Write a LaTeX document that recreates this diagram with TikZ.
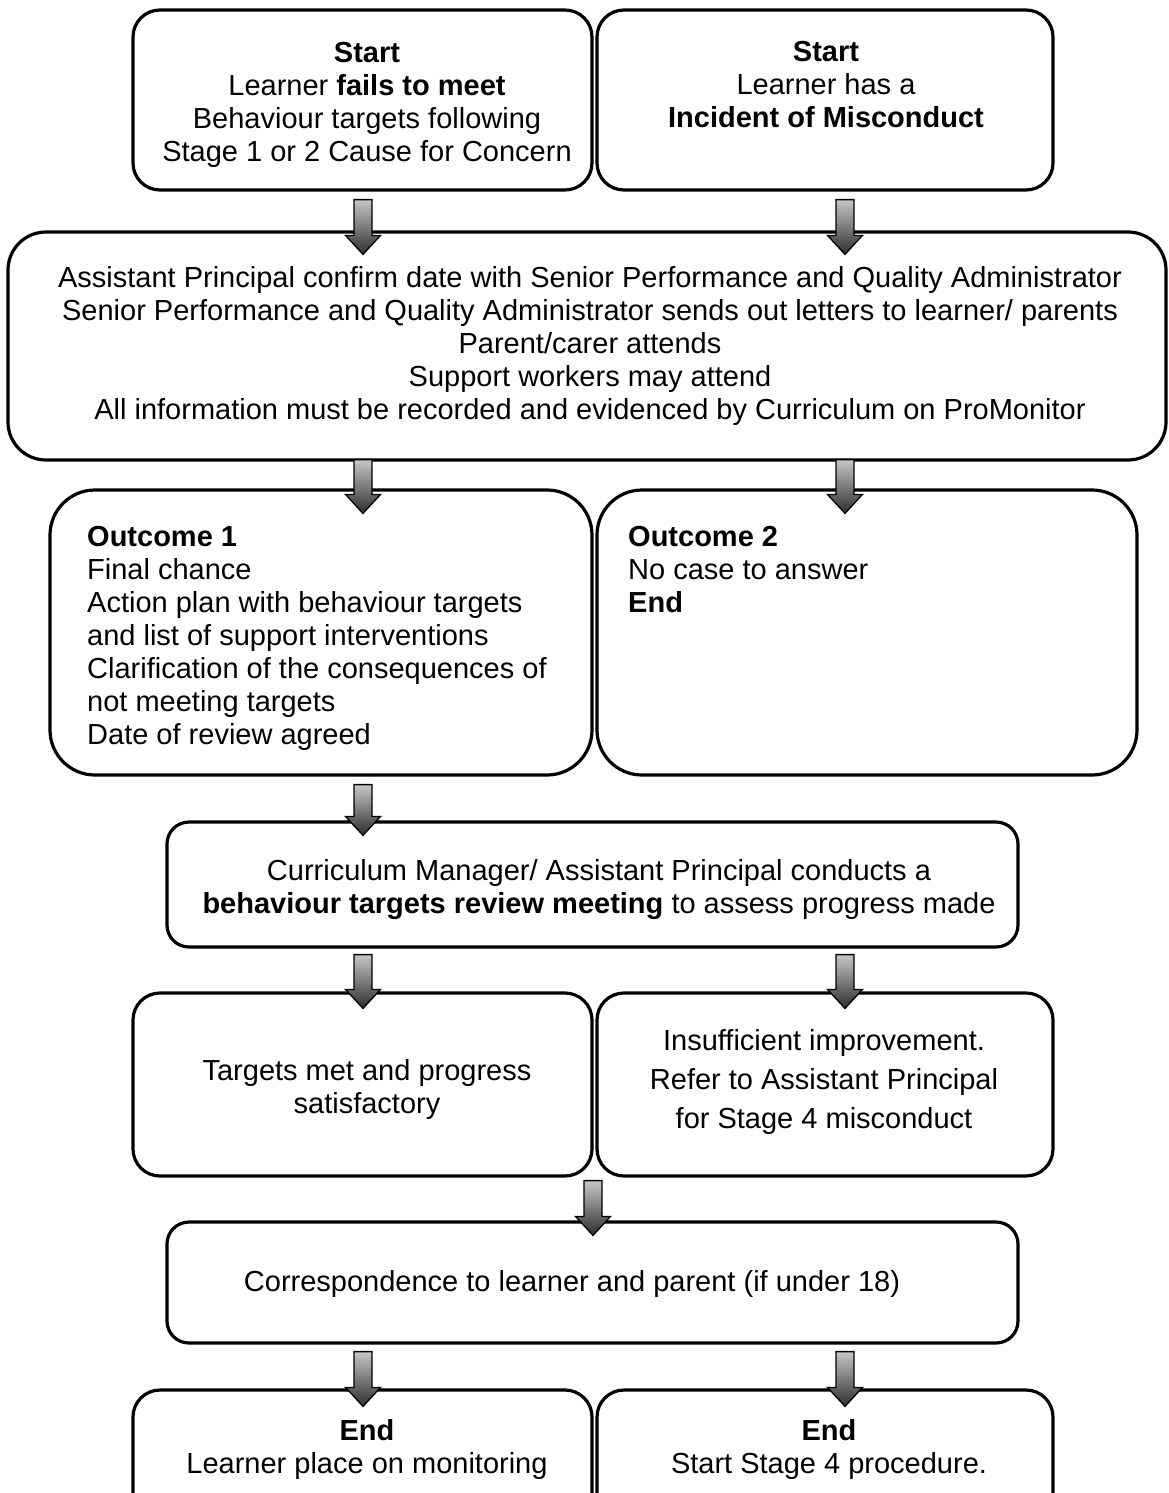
\documentclass[tikz,border=0pt]{standalone}
\usepackage{fontspec}
\setmainfont{Liberation Sans}
\usetikzlibrary{calc}
\tikzset{
  box/.style={draw=black, line width=3.2pt, rectangle, inner sep=0pt, fill=white},
  txt/.style={inner sep=0pt, align=center, font=\fontsize{29}{33}\selectfont},
  txtl/.style={inner sep=0pt, align=left, font=\fontsize{29}{33}\selectfont},
  arrsh/.style={top color=black!22, bottom color=black!82, draw=black, line width=1.3pt, line join=miter}
}
\newcommand\barrow[5]{%
  \shade[arrsh] let \p1=($(#1.south -| #3)+(0,#4)$), \p2=($(#2.north -| #3)+(0,#5)$) in
   (\x1-9pt,\y1) -- (\x1+9pt,\y1) -- (\x1+9pt,\y2+19pt) -- (\x1+17.5pt,\y2+19pt) --
   (\x1,\y2) -- (\x1-17.5pt,\y2+19pt) -- (\x1-9pt,\y2+19pt) -- cycle;}
\begin{document}
\begin{tikzpicture}[x=1pt,y=-1pt]
\useasboundingbox (0,0) rectangle (1168,1493);
\clip (0,0) rectangle (1168,1493);
\coordinate (xL) at (363,0);
\coordinate (xR) at (845,0);
\coordinate (xM) at (593,0);
% boxes
\node[box, rounded corners=27pt, minimum width=459pt, minimum height=180pt] (b1) at (362.5,100) {};
\node[box, rounded corners=27pt, minimum width=456pt, minimum height=180pt] (b2) at (825,100) {};
\node[box, rounded corners=38pt, minimum width=1158pt, minimum height=228pt] (b3) at (587,346) {};
\node[box, rounded corners=45pt, minimum width=542pt, minimum height=285pt] (b4) at (321,632.5) {};
\node[box, rounded corners=45pt, minimum width=540pt, minimum height=285pt] (b5) at (867,632.5) {};
\node[box, rounded corners=22pt, minimum width=851pt, minimum height=125pt] (b6) at (592.5,884.5) {};
\node[box, rounded corners=27pt, minimum width=459pt, minimum height=183pt] (b7) at (362.5,1084.5) {};
\node[box, rounded corners=27pt, minimum width=456pt, minimum height=183pt] (b8) at (825,1084.5) {};
\node[box, rounded corners=22pt, minimum width=851pt, minimum height=121pt] (b9) at (592.5,1282.5) {};
\node[box, rounded corners=27pt, minimum width=459pt, minimum height=140pt] (b10) at (362.5,1460) {};
\node[box, rounded corners=27pt, minimum width=456pt, minimum height=140pt] (b11) at (825,1460) {};
% texts (anchor=base is the baseline of the last line)
\node[txt, anchor=base] (t1) at (367,161) {\textbf{Start}\\Learner \textbf{fails to meet}\\Behaviour targets following\\Stage 1 or 2 Cause for Concern};
\node[txt, anchor=base] (t2) at (826,128) {\textbf{Start}\\Learner has a\\\textbf{Incident of Misconduct}};
\node[txt, anchor=base] (t3) at (590,419) {Assistant Principal confirm date with Senior Performance and Quality Administrator\\Senior Performance and Quality Administrator sends out letters to learner/ parents\\Parent/carer attends\\Support workers may attend\\All information must be recorded and evidenced by Curriculum on ProMonitor};
\node[txtl, anchor=base west] (t4) at (87,744) {\textbf{Outcome 1}\\Final chance\\Action plan with behaviour targets\\and list of support interventions\\Clarification of the consequences of\\not meeting targets\\Date of review agreed};
\node[txtl, anchor=base west] (t5) at (628,612) {\textbf{Outcome 2}\\No case to answer\\\textbf{End}};
\node[txt, anchor=base] (t6) at (599,913) {Curriculum Manager/ Assistant Principal conducts a\\\textbf{behaviour targets review meeting} to assess progress made};
\node[txt, anchor=base] (t7) at (367,1113) {Targets met and progress\\satisfactory};
\node[txt, anchor=base, font=\fontsize{29}{39}\selectfont] (t8) at (824,1128) {Insufficient improvement.\\Refer to Assistant Principal\\for Stage 4 misconduct};
\node[txt, anchor=base] (t9) at (572,1291) {Correspondence to learner and parent (if under 18)};
\node[txt, anchor=base] (t10) at (367,1473) {\textbf{End}\\Learner place on monitoring};
\node[txt, anchor=base] (t11) at (829,1473) {\textbf{End}\\Start Stage 4 procedure.};
% block arrows
\barrow{b1}{b3}{xL}{8}{24}
\barrow{b2}{b3}{xR}{8}{24}
\barrow{b3}{b4}{xL}{-2}{25}
\barrow{b3}{b5}{xR}{-2}{25}
\barrow{b4}{b6}{xL}{8}{15}
\barrow{b6}{b7}{xL}{6}{17}
\barrow{b6}{b8}{xR}{6}{17}
\barrow{b7}{b9}{xM}{3}{15}
\barrow{b9}{b10}{xL}{7}{18}
\barrow{b9}{b11}{xR}{7}{18}
\end{tikzpicture}
\end{document}
